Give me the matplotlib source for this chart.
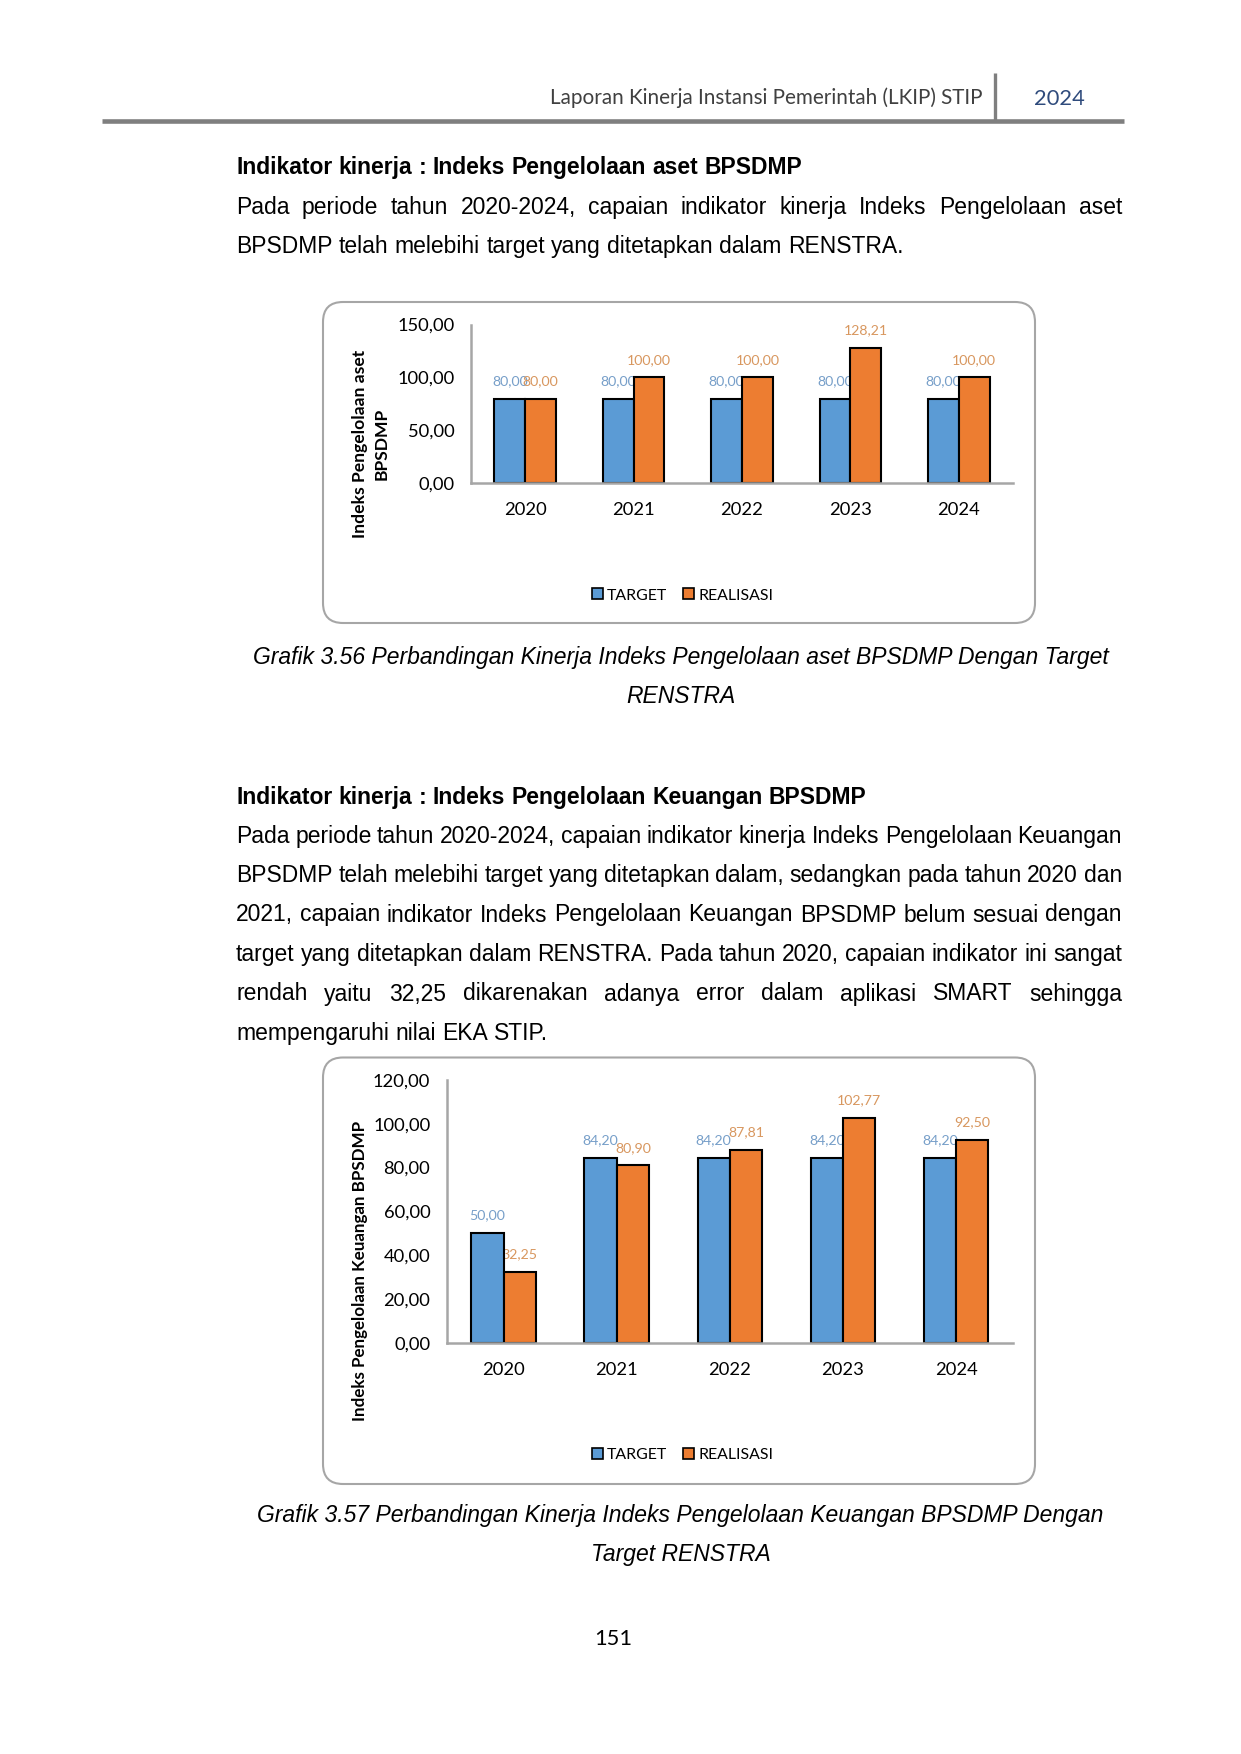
import numpy as np
import matplotlib
matplotlib.use("Agg")
import matplotlib.pyplot as plt
from matplotlib.patches import FancyBboxPatch, Patch
from matplotlib.lines import Line2D
from matplotlib.ticker import FuncFormatter

# ---------------- data ----------------
years = ["2020", "2021", "2022", "2023", "2024"]
series_names = ["TARGET", "REALISASI"]
aset_target = [80.00, 80.00, 80.00, 80.00, 80.00]
aset_realisasi = [80.00, 100.00, 100.00, 128.21, 100.00]
keu_target = [50.00, 84.20, 84.20, 84.20, 84.20]
keu_realisasi = [32.25, 80.90, 87.81, 102.77, 92.50]
aset_ylabel_lines = ["Indeks Pengelolaan aset", "BPSDMP"]
keu_ylabel_lines = ["Indeks Pengelolaan Keuangan BPSDMP"]

header_title = "Laporan Kinerja Instansi Pemerintah (LKIP) STIP"
header_year = "2024"
heading1 = "Indikator kinerja : Indeks Pengelolaan aset BPSDMP"
para1 = [
    "Pada periode tahun 2020-2024, capaian indikator kinerja Indeks Pengelolaan aset",
    "BPSDMP telah melebihi target yang ditetapkan dalam RENSTRA.",
]
caption1 = [
    "Grafik 3.56 Perbandingan Kinerja Indeks Pengelolaan aset BPSDMP Dengan Target",
    "RENSTRA",
]
heading2 = "Indikator kinerja : Indeks Pengelolaan Keuangan BPSDMP"
para2 = [
    "Pada periode tahun 2020-2024, capaian indikator kinerja Indeks Pengelolaan Keuangan",
    "BPSDMP telah melebihi target yang ditetapkan dalam, sedangkan pada tahun 2020 dan",
    "2021, capaian indikator Indeks Pengelolaan Keuangan BPSDMP belum sesuai dengan",
    "target yang ditetapkan dalam RENSTRA. Pada tahun 2020, capaian indikator ini sangat",
    "rendah yaitu 32,25 dikarenakan adanya error dalam aplikasi SMART sehingga",
    "mempengaruhi nilai EKA STIP.",
]
caption2 = [
    "Grafik 3.57 Perbandingan Kinerja Indeks Pengelolaan Keuangan BPSDMP Dengan",
    "Target RENSTRA",
]
page_number = "151"

# ---------------- page setup ----------------
W, H, DPI = 1241, 1754, 150
BODY = ["Liberation Sans", "DejaVu Sans"]
CHART = ["Lato", "DejaVu Sans"]
plt.rcParams["font.family"] = CHART

fig = plt.figure(figsize=(W / DPI, H / DPI), dpi=DPI)
fig.patch.set_facecolor("white")
renderer = fig.canvas.get_renderer()


def ptext(x, y, s, **kw):
    return fig.text(x / W, 1 - y / H, s, **kw)


def measure(s, **kw):
    t = fig.text(0, 0, s, **kw)
    w = t.get_window_extent(renderer).width
    t.remove()
    return w


def fit_size(s, width, **kw):
    return 10.0 * width / measure(s, fontsize=10, **kw)


LEFT, RIGHT = 236, 1122
BODY_SIZE = 11
BASE_OFF = 8


def body_line(s, y, justify=False, **kw):
    props = dict(family=BODY, fontsize=BODY_SIZE, color="black")
    props.update(kw)
    words = s.split(" ")
    widths = [measure(w, **props) for w in words]
    if justify and len(words) > 1:
        gap = (RIGHT - LEFT - sum(widths)) / (len(words) - 1)
    else:
        gap = measure("a a", **props) - measure("aa", **props)
    x = LEFT
    for w, wd in zip(words, widths):
        ptext(x, y + BASE_OFF, w, ha="left", va="baseline", **props)
        x += wd + gap


# ---------------- header ----------------
hsize = fit_size(header_title, 432, family=CHART)
ptext(982, 104, header_title, ha="right", va="baseline", family=CHART,
      fontsize=hsize, color="#404040")
ysize = fit_size(header_year, 51, family=CHART)
ptext(1059, 105, header_year, ha="center", va="baseline", family=CHART,
      fontsize=ysize, color="#2F4B7C")
fig.add_artist(Line2D([102 / W, 1124 / W], [1 - 121 / H] * 2, color="#7F7F7F",
                      lw=2.2, solid_capstyle="butt"))
fig.add_artist(Line2D([995 / W] * 2, [1 - 73 / H, 1 - 121 / H], color="#7F7F7F",
                      lw=1.6, solid_capstyle="butt"))

# ---------------- body text ----------------
body_line(heading1, 166, weight="bold")
para1_y = [206, 245]
for i, (s, y) in enumerate(zip(para1, para1_y)):
    body_line(s, y, justify=(i < len(para1) - 1))

CAP_X = 680.5
for s, y in zip(caption1, [656, 695]):
    ptext(CAP_X, y + BASE_OFF, s, ha="center", va="baseline", family=BODY,
          fontsize=BODY_SIZE, style="italic")

body_line(heading2, 796, weight="bold")
para2_y = [835, 874, 913.5, 953, 992.5, 1032]
for i, (s, y) in enumerate(zip(para2, para2_y)):
    body_line(s, y, justify=(i < len(para2) - 1))

for s, y in zip(caption2, [1514, 1553]):
    ptext(CAP_X, y + BASE_OFF, s, ha="center", va="baseline", family=BODY,
          fontsize=BODY_SIZE, style="italic")

psize = fit_size(page_number, 38, family=CHART)
ptext(613, 1645, page_number, ha="center", va="baseline", family=CHART,
      fontsize=psize, color="black")

# ---------------- charts ----------------
BLUE, ORANGE = "#5B9BD5", "#ED7D31"
BLUE_LBL, ORANGE_LBL = "#779FC9", "#D8975F"
AXIS_GRAY = "#A6A6A6"
BW = 0.285
TICK = fit_size("150,00", 51.5, family=CHART) * 1.12
LBL = fit_size("100,00", 40.3, family=CHART) * 1.1
LEG = fit_size("REALISASI", 73.3, family=CHART) * 1.02


def comma(v):
    return f"{v:.2f}".replace(".", ",")


def draw_chart(box, plot, target, real, ymax, ystep, ylab_lines, ylab_x, ylab_y,
               ylab_width, legend_xy):
    bx0, by0, bx1, by1 = box
    fig.add_artist(FancyBboxPatch(
        (bx0 / DPI, (H - by1) / DPI), (bx1 - bx0) / DPI, (by1 - by0) / DPI,
        boxstyle=f"round,pad=0,rounding_size={20 / DPI}",
        transform=fig.dpi_scale_trans, facecolor="white", edgecolor="#A6A6A6",
        lw=1.0, zorder=-1))
    l, r, ybot, ytop = plot
    ax = fig.add_axes([l / W, 1 - ybot / H, (r - l) / W, (ybot - ytop) / H])
    ax.set_facecolor("none")
    x = np.arange(len(years))
    ax.bar(x - BW / 2, target, BW, color=BLUE, edgecolor="black", lw=1.0,
           zorder=2, label=series_names[0])
    ax.bar(x + BW / 2, real, BW, color=ORANGE, edgecolor="black", lw=1.0,
           zorder=2, label=series_names[1])
    for xs, vals, col in ((x - BW / 2, target, BLUE_LBL), (x + BW / 2, real, ORANGE_LBL)):
        for xi, v in zip(xs, vals):
            ax.annotate(comma(v), (xi, v), xytext=(0, 8.5), textcoords="offset points",
                        ha="center", va="center", fontsize=LBL, family=CHART,
                        color=col, zorder=1.5, annotation_clip=False)
    ax.set_xlim(-0.5, len(years) - 0.5)
    ax.set_ylim(0, ymax)
    ax.set_yticks(np.arange(0, ymax + 1e-9, ystep))
    ax.yaxis.set_major_formatter(FuncFormatter(lambda v, p: comma(v)))
    ax.set_xticks(x)
    ax.set_xticklabels(years)
    for s in ("top", "right"):
        ax.spines[s].set_visible(False)
    for s in ("left", "bottom"):
        ax.spines[s].set_color(AXIS_GRAY)
        ax.spines[s].set_linewidth(1.2)
    ax.tick_params(axis="both", length=0, labelsize=TICK, colors="black")
    ax.tick_params(axis="y", pad=8.0)
    ax.tick_params(axis="x", pad=9.0)

    ysz = fit_size(ylab_lines[0], ylab_width, family=CHART, weight="bold")
    n = len(ylab_lines)
    for i, s in enumerate(ylab_lines):
        xx = ylab_x + (i - (n - 1) / 2) * 21.5
        ptext(xx, ylab_y, s, rotation=90, ha="center", va="center", family=CHART,
              weight="bold", fontsize=ysz, color="black")

    handles = [Patch(facecolor=BLUE, edgecolor="black", lw=0.8, label=series_names[0]),
               Patch(facecolor=ORANGE, edgecolor="black", lw=0.8, label=series_names[1])]
    ax.legend(handles=handles, loc="center",
              bbox_to_anchor=(legend_xy[0] / W, 1 - legend_xy[1] / H),
              bbox_transform=fig.transFigure, ncol=2, frameon=False,
              fontsize=LEG, handlelength=0.68, handleheight=0.68,
              handletextpad=0.28, columnspacing=1.0, borderpad=0, borderaxespad=0)
    return ax


draw_chart((323, 302, 1035, 623), (471, 1013, 483.4, 324.5),
           aset_target, aset_realisasi, 150, 50,
           aset_ylabel_lines, 371, 444, 188, (682.5, 595.5))
draw_chart((323, 1057.5, 1035, 1484), (447, 1012.7, 1342.8, 1079.8),
           keu_target, keu_realisasi, 120, 20,
           keu_ylabel_lines, 360.5, 1271, 302, (682.5, 1455))

fig.savefig("out.png", dpi=DPI, facecolor="white")
